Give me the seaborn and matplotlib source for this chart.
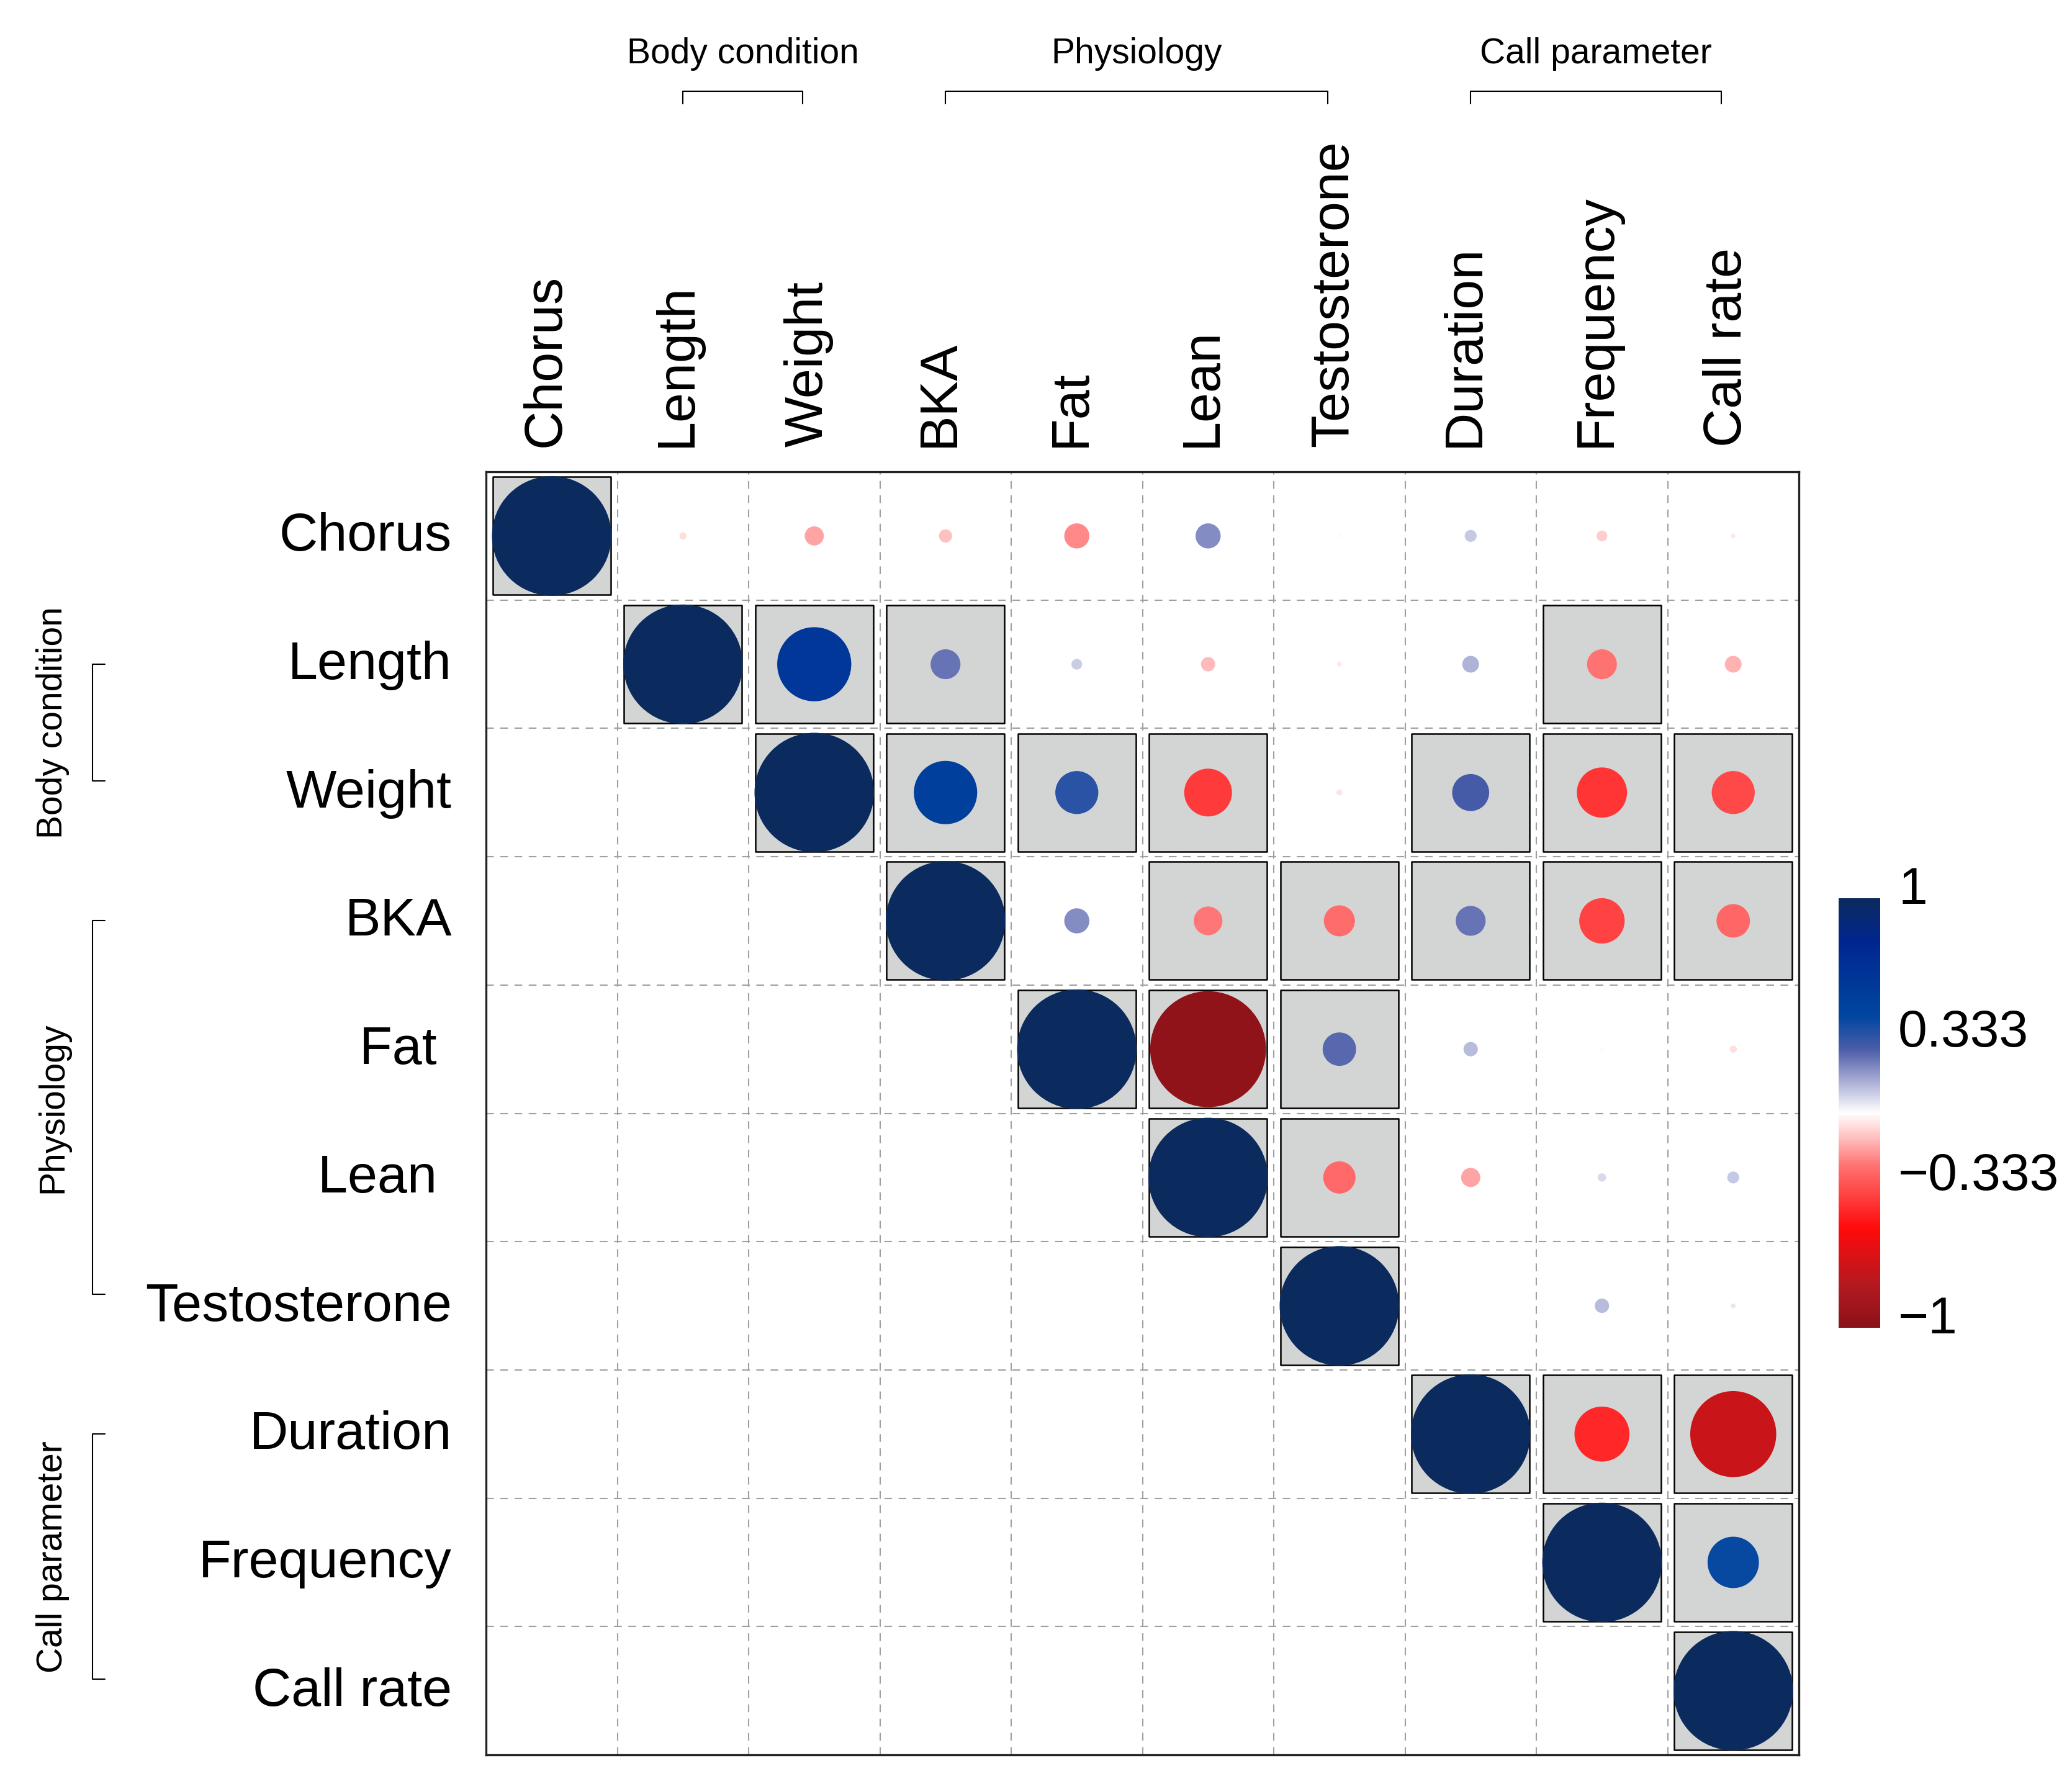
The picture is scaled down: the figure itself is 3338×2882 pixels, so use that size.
import numpy as np
import pandas as pd
import matplotlib
matplotlib.use("Agg")
import matplotlib.pyplot as plt
import matplotlib.transforms as mtransforms
from matplotlib.colors import LinearSegmentedColormap, Normalize
from matplotlib.cm import ScalarMappable
import seaborn as sns

# variables (columns) and their row labels
variables = ["Chorus", "Length", "Weight", "BKA", "Fat", "Lean", "Testosterone",
             "Duration", "Frequency", "Call rate"]
row_labels = ["Chorus", "Length", "Weight", "BKA", "Fat ", "Lean ", "Testosterone",
              "Duration", "Frequency", "Call rate"]

# upper triangle of the correlation matrix, each row starts at the diagonal
r_chorus = [1.00, -0.06, -0.16, -0.11, -0.21, 0.21, -0.02, 0.10, -0.09, -0.04]
r_length = [1.00, 0.62, 0.25, 0.09, -0.12, -0.04, 0.14, -0.25, -0.14]
r_weight = [1.00, 0.53, 0.36, -0.40, -0.05, 0.31, -0.42, -0.36]
r_bka = [1.00, 0.21, -0.24, -0.26, 0.25, -0.38, -0.28]
r_fat = [1.00, -0.97, 0.28, 0.12, -0.02, -0.06]
r_lean = [1.00, -0.27, -0.16, 0.07, 0.10]
r_testosterone = [1.00, 0.01, 0.12, 0.04]
r_duration = [1.00, -0.46, -0.72]
r_frequency = [1.00, 0.43]
r_call_rate = [1.00]

# significant cells (grey boxes), per row
sig_chorus = ["Chorus"]
sig_length = ["Length", "Weight", "BKA", "Frequency"]
sig_weight = ["Weight", "BKA", "Fat", "Lean", "Duration", "Frequency", "Call rate"]
sig_bka = ["BKA", "Lean", "Testosterone", "Duration", "Frequency", "Call rate"]
sig_fat = ["Fat", "Lean", "Testosterone"]
sig_lean = ["Lean", "Testosterone"]
sig_testosterone = ["Testosterone"]
sig_duration = ["Duration", "Frequency", "Call rate"]
sig_frequency = ["Frequency", "Call rate"]
sig_call_rate = ["Call rate"]

# variable groups
group_names = ["Body condition", "Physiology", "Call parameter"]
group_first = ["Length", "BKA", "Duration"]
group_last = ["Weight", "Testosterone", "Call rate"]

cbar_ticks = [1, 0.333, -0.333, -1]
cbar_ticklabels = ["1", "0.333", "\u22120.333", "\u22121"]

rows_r = [r_chorus, r_length, r_weight, r_bka, r_fat, r_lean, r_testosterone,
          r_duration, r_frequency, r_call_rate]
rows_sig = [sig_chorus, sig_length, sig_weight, sig_bka, sig_fat, sig_lean,
            sig_testosterone, sig_duration, sig_frequency, sig_call_rate]

records = []
for i, (vals, sigs) in enumerate(zip(rows_r, rows_sig)):
    for k, v in enumerate(vals):
        j = i + k
        records.append({"row": i, "col": j, "r": v,
                        "r2": v ** 2, "sig": variables[j] in sigs})
df = pd.DataFrame(records)

cmap = LinearSegmentedColormap.from_list("corr", [
    (0.000, "#8B1218"), (0.100, "#B41A20"), (0.230, "#FF0A0A"),
    (0.375, "#FF7070"), (0.440, "#FFBCBC"), (0.500, "#FFFFFF"),
    (0.575, "#A8ACD4"), (0.650, "#4A5CA8"), (0.725, "#0047A0"),
    (0.900, "#00268F"), (1.000, "#0B2A5E")])

sns.set_style("white")
plt.rcParams["font.family"] = ["Liberation Sans", "DejaVu Sans"]
plt.rcParams["text.color"] = "black"
plt.rcParams["xtick.color"] = "black"
plt.rcParams["ytick.color"] = "black"

W, H, DPI = 3338, 2882, 300
fig = plt.figure(figsize=(W / DPI, H / DPI), dpi=DPI)
gl, gr, gt, gb = 783, 2898, 760, 2827
ax = fig.add_axes([gl / W, 1 - gb / H, (gr - gl) / W, (gb - gt) / H])

cell_w = (gr - gl) / 10
full_d = 0.91 * cell_w * 72 / DPI  # diameter in points for |r| = 1

# significance boxes
sns.scatterplot(data=df[df["sig"]], x="col", y="row", marker="s",
                s=(full_d - 0.6) ** 2, color="#D3D5D5", edgecolor="black",
                linewidth=0.6, zorder=2, ax=ax, legend=False)

# correlation circles, diameter proportional to |r|
sns.scatterplot(data=df, x="col", y="row", hue="r", palette=cmap,
                hue_norm=(-1, 1), size="r2", sizes=(0, full_d ** 2),
                size_norm=(0, 1), linewidth=0, zorder=3, ax=ax, legend=False)

ax.set_xlim(-0.5, 9.5)
ax.set_ylim(9.5, -0.5)
ax.set_xticks(range(10))
ax.set_yticks(range(10))
ax.set_xticks(np.arange(0.5, 9, 1), minor=True)
ax.set_yticks(np.arange(0.5, 9, 1), minor=True)
ax.xaxis.tick_top()
ax.set_xticklabels(variables, rotation=90, fontsize=20.7)
ax.set_yticklabels(row_labels, fontsize=20.7)
ax.tick_params(axis="x", which="both", length=0, pad=9.6)
ax.tick_params(axis="y", which="both", length=0, pad=13.2)
ax.grid(which="minor", color="#A0A0A0", linestyle=(0, (6, 5)), linewidth=0.5)
ax.grid(which="major", visible=False)
ax.set_xlabel("")
ax.set_ylabel("")
for sp in ax.spines.values():
    sp.set_visible(True)
    sp.set_color("#222222")
    sp.set_linewidth(0.8)

# nudge tick labels slightly, as in the original layout
xshift = mtransforms.ScaledTranslation(-9 / DPI, 0, fig.dpi_scale_trans)
for lab in ax.get_xticklabels():
    lab.set_transform(lab.get_transform() + xshift)
yshift = mtransforms.ScaledTranslation(0, 7 / DPI, fig.dpi_scale_trans)
for lab in ax.get_yticklabels():
    lab.set_transform(lab.get_transform() + yshift)

# group brackets on top and on the left
top_tr = mtransforms.blended_transform_factory(ax.transData, fig.transFigure)
left_tr = mtransforms.blended_transform_factory(fig.transFigure, ax.transData)
for name, first, last in zip(group_names, group_first, group_last):
    a = variables.index(first)
    b = variables.index(last) - 0.09
    yh, yl = 1 - 147 / H, 1 - 167 / H
    ax.plot([a, a, b, b], [yl, yh, yh, yl], color="black", lw=0.5,
            transform=top_tr, clip_on=False)
    ax.text((a + b) / 2, 1 - 102 / H, name, transform=top_tr, ha="center",
            va="baseline", fontsize=13.7)
    xv, xt = 149 / W, 169 / W
    ax.plot([xt, xv, xv, xt], [a, a, b, b], color="black", lw=0.5,
            transform=left_tr, clip_on=False)
    ax.text(85 / W, (a + b) / 2, name, transform=left_tr, ha="center",
            va="center", rotation=90, fontsize=13.7)

# colour legend
cax = fig.add_axes([2962 / W, 1 - 2139 / H, 67 / W, 692 / H])
cbar = fig.colorbar(ScalarMappable(norm=Normalize(-1, 1), cmap=cmap),
                    cax=cax, ticks=cbar_ticks)
cbar.outline.set_visible(False)
cbar.set_ticklabels(cbar_ticklabels)
cax.tick_params(length=0, pad=7, labelsize=20.2, colors="black")
shift = mtransforms.ScaledTranslation(0, 22 / DPI, fig.dpi_scale_trans)
for lab in cax.get_yticklabels():
    lab.set_transform(lab.get_transform() + shift)

fig.savefig("out.png", dpi=DPI)
